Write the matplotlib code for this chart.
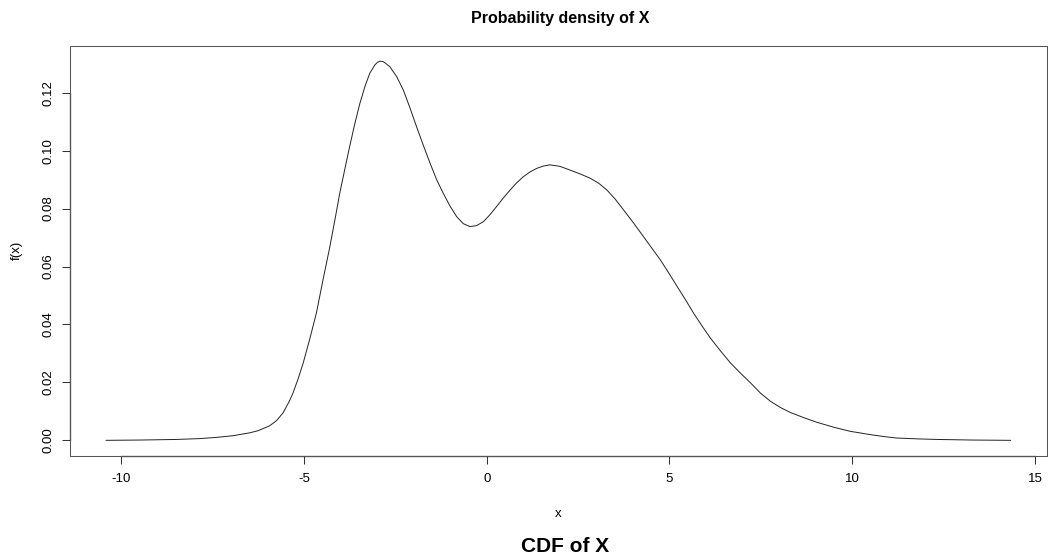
import numpy as np
import matplotlib
matplotlib.use("Agg")
import matplotlib.pyplot as plt

plt.rcParams['font.family'] = ['Liberation Sans', 'DejaVu Sans']

# density estimate of X
x_vals = [-10.41, -9.5, -8.5, -7.85, -7.4, -6.94, -6.48, -6.26, -5.94, -5.75,
          -5.57, -5.40, -5.30, -5.16, -5.02, -4.84, -4.66, -4.48, -4.29, -4.15,
          -4.02, -3.88, -3.75, -3.61, -3.47, -3.33, -3.20, -3.06, -2.99, -2.92,
          -2.85, -2.79, -2.65, -2.46, -2.28, -2.10, -1.92, -1.73, -1.55, -1.37,
          -1.19, -1.00, -0.82, -0.64, -0.46, -0.28, -0.09, 0.09, 0.27, 0.45,
          0.64, 0.82, 1.00, 1.19, 1.37, 1.55, 1.73, 2.00, 2.28, 2.55,
          2.83, 3.06, 3.29, 3.52, 3.74, 4.02, 4.29, 4.52, 4.75, 4.98,
          5.21, 5.44, 5.66, 5.89, 6.12, 6.40, 6.67, 6.95, 7.22, 7.49,
          7.76, 8.04, 8.31, 8.68, 9.04, 9.50, 9.95, 10.53, 10.87, 11.21,
          11.8, 12.34, 13.3, 14.33]
density = [0.0000, 0.0001, 0.0003, 0.0006, 0.0010, 0.0016, 0.0026, 0.0033, 0.0050, 0.0068,
           0.0095, 0.0135, 0.0163, 0.0212, 0.0267, 0.0350, 0.0439, 0.0553, 0.0669, 0.0763,
           0.0853, 0.0937, 0.1014, 0.1092, 0.1163, 0.1222, 0.1267, 0.1296, 0.1305, 0.1309,
           0.1308, 0.1304, 0.1290, 0.1255, 0.1209, 0.1148, 0.1083, 0.1017, 0.0957, 0.0900,
           0.0853, 0.0808, 0.0772, 0.0748, 0.0738, 0.0741, 0.0755, 0.0779, 0.0807, 0.0836,
           0.0864, 0.0889, 0.0910, 0.0927, 0.0939, 0.0947, 0.0951, 0.0946, 0.0933, 0.0920,
           0.0905, 0.0888, 0.0864, 0.0832, 0.0796, 0.0750, 0.0703, 0.0663, 0.0623, 0.0578,
           0.0531, 0.0485, 0.0439, 0.0395, 0.0353, 0.0308, 0.0267, 0.0231, 0.0198, 0.0163,
           0.0135, 0.0113, 0.0096, 0.0078, 0.0062, 0.0045, 0.0031, 0.0019, 0.0013, 0.0008,
           0.0005, 0.0003, 0.0001, 0.0000]

xticks = [-10, -5, 0, 5, 10, 15]
yticks = [0.00, 0.02, 0.04, 0.06, 0.08, 0.10, 0.12]
ytick_labels = ["0.00", "0.02", "0.04", "0.06", "0.08", "0.10", "0.12"]

W, H = 1048, 559
fig = plt.figure(figsize=(W / 100, H / 100), dpi=100)
# plot region in pixels: left 70, right 1046.7, top 46, bottom 455.5
ax = fig.add_axes([70 / W, 1 - 455.5 / H, 976.7 / W, 409.5 / H])

ax.plot(x_vals, density, color='#222222', lw=0.7)

# R style 4% padding around data range
def r_lim(v):
    lo, hi = min(v), max(v)
    d = 0.04 * (hi - lo)
    return lo - d, hi + d

ax.set_xlim(*r_lim(x_vals))
ax.set_ylim(*r_lim(density))

ax.set_xticks(xticks)
ax.set_xticklabels([str(t) for t in xticks])
ax.set_yticks(yticks)
ax.set_yticklabels(ytick_labels, rotation=90, va='center')
ax.tick_params(axis='both', direction='out', length=5.5, width=0.75,
               color='#333333', labelsize=9.5)
ax.tick_params(axis='x', pad=7)
ax.tick_params(axis='y', pad=6)

for sp in ax.spines.values():
    sp.set_linewidth(0.75)
    sp.set_color('#555555')

# axis lines spanning first to last tick, like R's axis()
ax.plot([xticks[0], xticks[-1]], [0, 0], transform=ax.get_xaxis_transform(),
        color='#222222', lw=0.9, clip_on=False)
ax.plot([0, 0], [yticks[0], yticks[-1]], transform=ax.get_yaxis_transform(),
        color='#222222', lw=0.9, clip_on=False)

fig.text(560.5 / W, 1 - 23.3 / H, "Probability density of X", ha='center',
         va='baseline', fontsize=11.5, fontweight='bold')
fig.text(558.3 / W, 1 - 516.7 / H, "x", ha='center', va='baseline', fontsize=9.5)
fig.text(17 / W, 1 - 250.8 / H, "f(x)", ha='center', va='center',
         rotation=90, fontsize=9.5)
fig.text(565 / W, 1 - 551.7 / H, "CDF of X", ha='center', va='baseline',
         fontsize=15, fontweight='bold')

fig.savefig("out.png", dpi=100)
